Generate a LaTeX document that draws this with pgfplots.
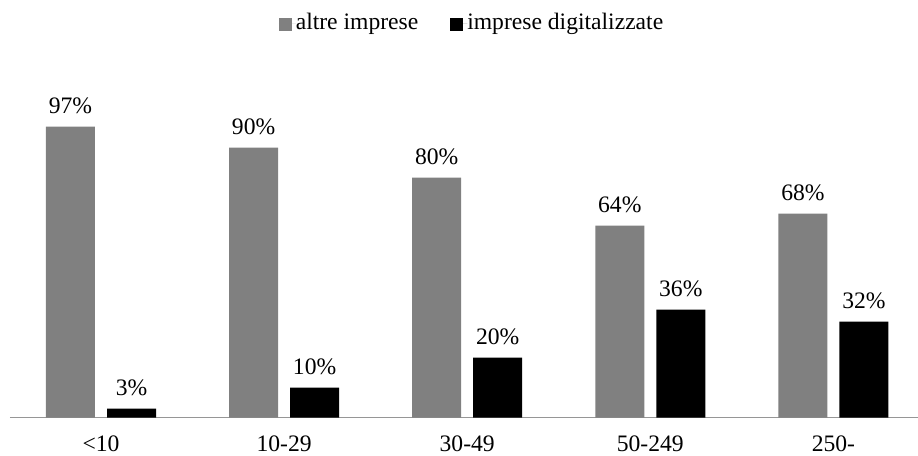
\documentclass[border=0pt]{standalone}
\usepackage{fontspec}
\setmainfont{Liberation Serif}
\usepackage{pgfplots}
\pgfplotsset{compat=1.18}
\definecolor{bargray}{RGB}{128,128,128}
\definecolor{axgray}{RGB}{150,150,150}
\newcommand{\chartfont}{\fontsize{11.8pt}{14pt}\selectfont}
\begin{document}
\chartfont
\begin{tikzpicture}
\begin{axis}[
  name=ax,
  scale only axis,
  width=454pt, height=150pt,
  xmin=-0.497, xmax=4.462,
  ymin=0, ymax=100,
  axis x line=bottom,
  axis y line=none,
  x axis line style={-, draw=axgray, line width=0.6pt},
  xtick=data,
  xticklabels={{<10},{10-29},{30-49},{50-249},{250-}},
  xtick style={draw=none},
  xticklabel style={anchor=base, yshift=-12.8pt, font=\chartfont, text depth=0pt, inner sep=0pt},
  ytick=\empty,
  clip=false,
  ybar,
  bar width=0.2676,
  nodes near coords={\pgfmathprintnumber[assume math mode=true]{\pgfplotspointmeta}\%},
  every node near coord/.append style={anchor=base, yshift=6.5pt, inner sep=0pt, font=\chartfont, text=black},
  legend columns=2,
  legend style={draw=none, at={(0.5077,1)}, anchor=center, yshift=47pt,
    font=\chartfont,
    nodes={inner xsep=0pt, inner ysep=0pt},
    /tikz/every even column/.append style={column sep=16pt}},
  legend image code/.code={\fill[#1] (0pt,-0.3em) rectangle (6.5pt,-0.3em+6.5pt); \path (0pt,0pt) -- (8.5pt,0pt);},
]
\addplot[fill=bargray, draw=none, bar shift=-0.1666] coordinates {(0,97) (1,90) (2,80) (3,64) (4,68)};
\addplot[fill=black, draw=none, bar shift=0.1666] coordinates {(0,3) (1,10) (2,20) (3,36) (4,32)};
\legend{altre imprese, imprese digitalizzate}
\end{axis}
\pgfresetboundingbox
\path[use as bounding box] (ax.south west) ++(-5pt,-19.25pt) rectangle ++(459pt,228pt);
\end{tikzpicture}
\end{document}
